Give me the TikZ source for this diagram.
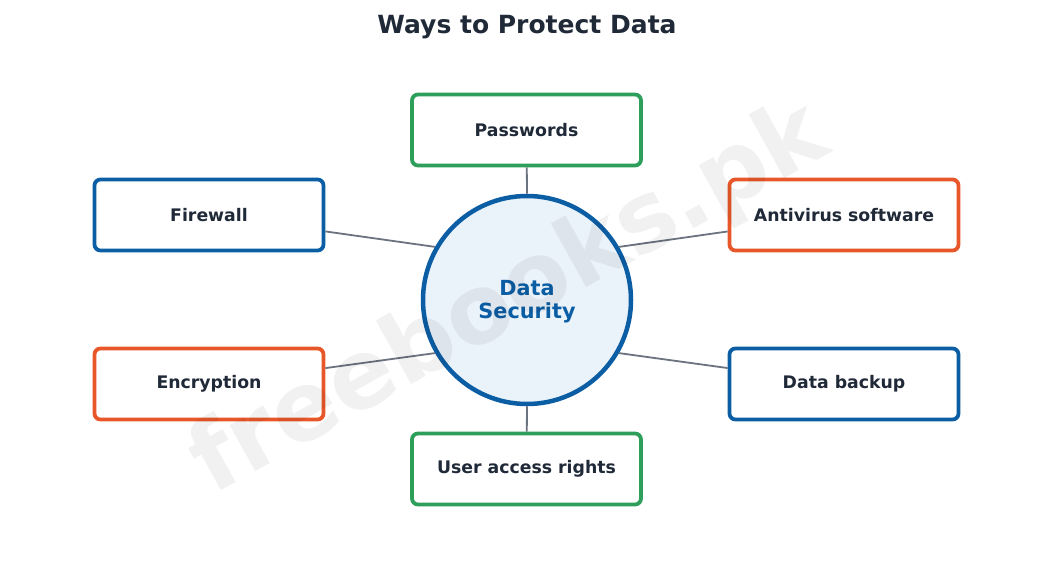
\documentclass[tikz,border=0pt]{standalone}
\usepackage{fontspec}
\setmainfont{DejaVu Sans}
\definecolor{cblue}{HTML}{0B5EA4}
\definecolor{cgreen}{HTML}{2E9E5B}
\definecolor{corange}{HTML}{E8572A}
\definecolor{ctext}{HTML}{1F2937}
\definecolor{cline}{HTML}{6B7280}
\definecolor{cfill}{HTML}{EAF2FA}
\begin{document}
\begin{tikzpicture}[x=1pt,y=-1pt,
  item/.style={draw, line width=3.8pt, rounded corners=6pt, fill=white,
    minimum width=229pt, minimum height=71pt, inner sep=0pt,
    text=ctext, font=\fontsize{17.3}{20}\selectfont\bfseries},
  hub/.style={circle, draw=cblue, line width=4.5pt, fill=cfill,
    minimum size=208pt, inner sep=0pt},
  hubtext/.style={align=center, text=cblue, inner sep=0pt,
    font=\fontsize{20.8}{23}\selectfont\bfseries},
  link/.style={draw=cline, line width=1.8pt}]
\useasboundingbox (0,0) rectangle (1053,569);
\node[font=\fontsize{25}{28}\selectfont\bfseries, text=ctext] (title) at (527,27) {Ways to Protect Data};
\node[hub] (c) at (527,300) {};
\node[hubtext] (ct) at (527,302) {Data\\Security};
\node[item, draw=cgreen] (pw) at (526.5,130) {Passwords};
\node[item, draw=cblue] (fw) at (209,215) {Firewall};
\node[item, draw=corange] (av) at (844,215) {Antivirus software};
\node[item, draw=corange] (en) at (209,384) {Encryption};
\node[item, draw=cblue] (db) at (844,384) {Data backup};
\node[item, draw=cgreen] (ua) at (526.5,469) {User access rights};
\draw[link] (c.90) -- (pw);
\draw[link] (c.150) -- (fw);
\draw[link] (c.30) -- (av);
\draw[link] (c.210) -- (en);
\draw[link] (c.330) -- (db);
\draw[link] (c.270) -- (ua);
\node[rotate=29, text=black, text opacity=0.055, font=\fontsize{96}{100}\selectfont\bfseries] (wm) at (510,300) {freebooks.pk};
\end{tikzpicture}
\end{document}
